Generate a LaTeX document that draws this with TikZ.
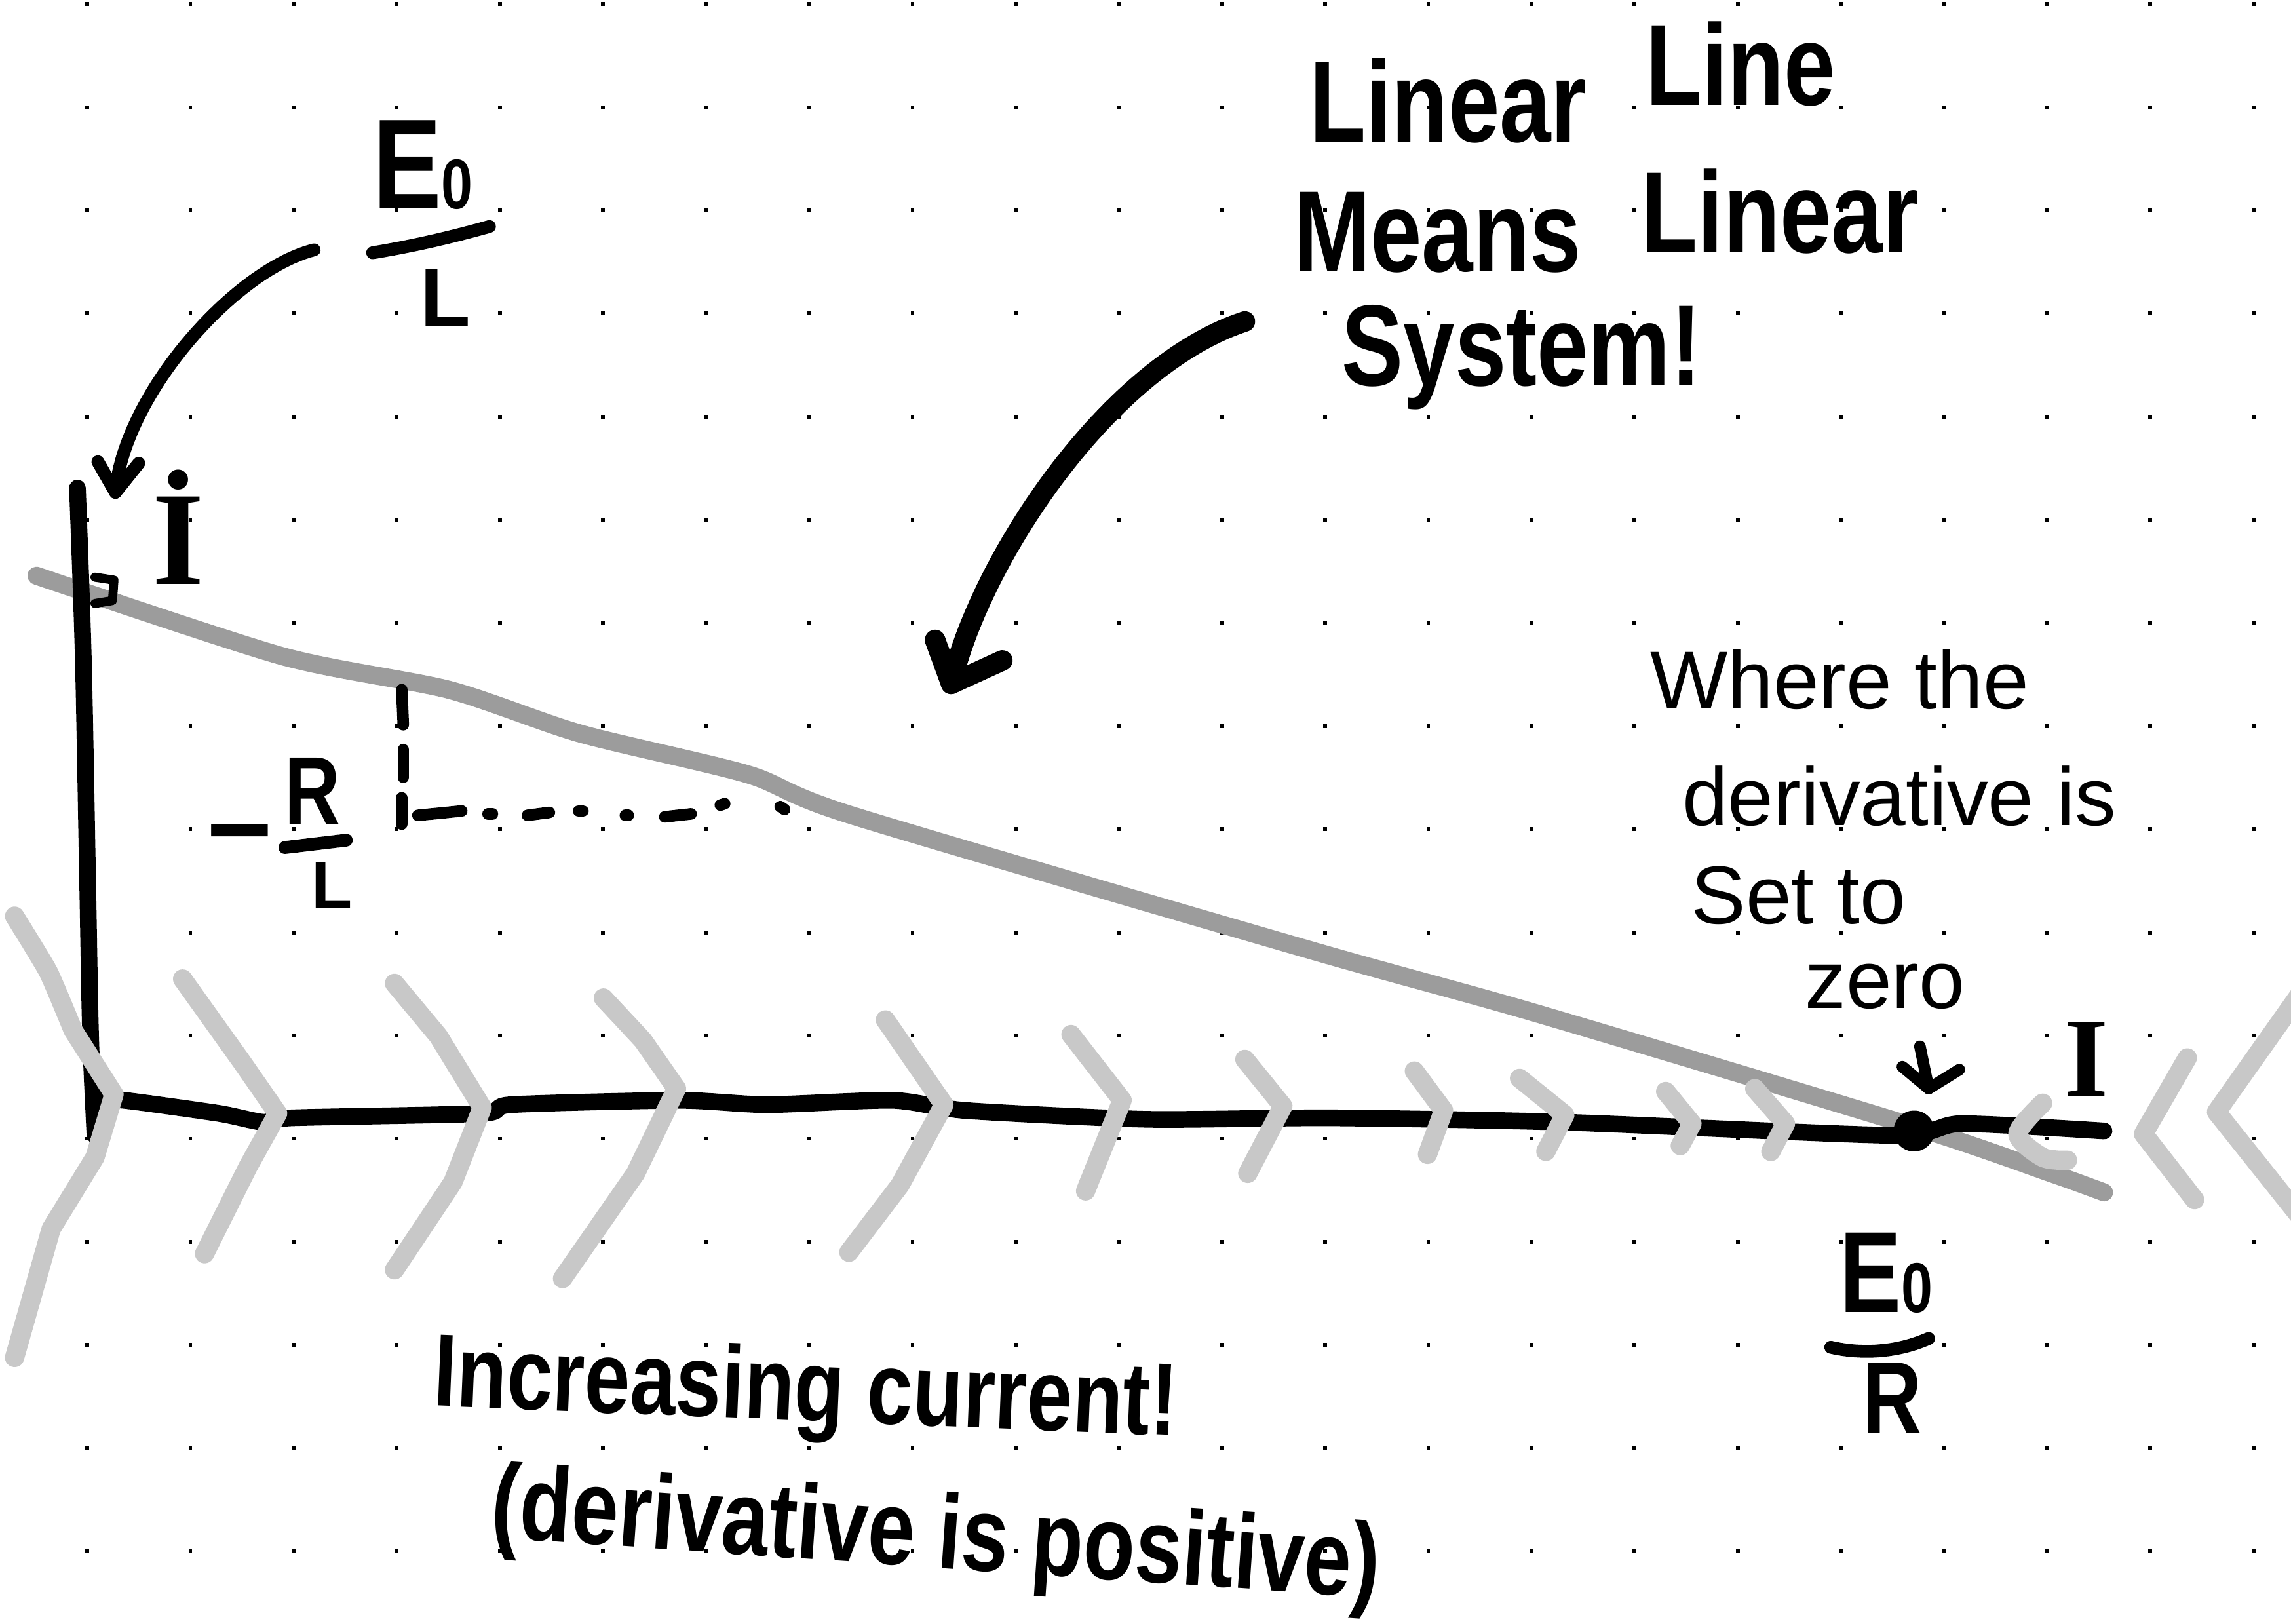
\documentclass[tikz,border=0pt]{standalone}
\usepackage{fontspec}
\setmainfont{Liberation Sans}
\newfontfamily\serifhand{Liberation Serif}
\definecolor{curvegray}{HTML}{9C9C9C}
\definecolor{chevgray}{HTML}{C8C8C8}
\newcommand{\tallish}[1]{\scalebox{1}[1.25]{#1}}
\newcommand{\subo}{{\fontsize{22}{24}\selectfont 0}}
\begin{document}
\begin{tikzpicture}[x=0.02cm, y=-0.02cm, line cap=round, line join=round,
  inkline/.style={draw=black, line width=6.5pt},
  grayline/.style={draw=curvegray, line width=7pt},
  chevron/.style={draw=chevgray, line width=7.5pt},
  bigtxt/.style={font=\fontsize{36}{40}\selectfont\bfseries, anchor=base west, inner sep=0pt},
  sidetxt/.style={font=\fontsize{32}{36}\selectfont, anchor=base west, inner sep=0pt},
  bottxt/.style={font=\fontsize{32}{36}\selectfont\bfseries, anchor=base west, inner sep=0pt},
  mathtxt/.style={inner sep=0pt, anchor=base},
  dashink/.style={draw=black, line width=4.5pt},
  fracbar/.style={draw=black, line width=5pt}]
\useasboundingbox (0,0) rectangle (1568,1111);
\fill[white] (0,0) rectangle (1568,1111);
\begin{scope}
\clip (0,0) rectangle (1568,1111);
% dot grid
\foreach \i in {0,...,21}{
  \foreach \j in {0,...,15}{
    \fill[black] ({58.4+70.6*\i},{1.4+70.6*\j}) rectangle ++(2.6,2.6);
  }
}
% grey line
\draw[grayline] plot[smooth, tension=0.45] coordinates {(25,394) (193,449) (307,472) (397,502) (512,530) (583,558) (896,650) (1050,693) (1310,771) (1404,803) (1440,816)};
% axes
\draw[inkline] plot[smooth, tension=0.5] coordinates {(53,334) (57,450) (60,605) (62,709) (65,777)};
\draw[inkline] plot[smooth, tension=0.4] coordinates {(65,753) (85,753) (150,762) (180,768) (200,765) (330,762) (350,756) (465,753) (525,756) (611,753) (661,760) (785,766) (911,765) (1071,768) (1296,777) (1342,769) (1440,774)};
\draw[black, line width=3.5pt] (65,395) -- (78,397) -- (77,411) -- (65,413);
% chevrons
\draw[chevron] plot[smooth, tension=0.3] coordinates {(10,627) (33,665) (50,705)} -- (78,749) -- (65,792) -- (35,841) -- (10,929);
\draw[chevron] (125,670) -- (165,726) -- (190,762) -- (170,798) -- (140,858);
\draw[chevron] (270,673) -- (300,709) -- (330,758) -- (310,809) -- (270,869);
\draw[chevron] (413,683) -- (440,712) -- (463,745) -- (435,803) -- (385,875);
\draw[chevron] (606,698) -- (646,756) -- (616,811) -- (581,857);
\draw[chevron] (733,708) -- (768,753) -- (743,815);
\draw[chevron] (852,725) -- (878,757) -- (854,803);
\draw[chevron] (968,733) -- (988,760) -- (977,790);
\draw[chevron] (1040,738) -- (1071,763) -- (1058,788);
\draw[chevron] (1140,747) -- (1158,769) -- (1150,784);
\draw[chevron] (1201,745) -- (1222,769) -- (1212,788);
\draw[chevron] plot[smooth, tension=0.5] coordinates {(1398,755) (1381,776) (1398,792) (1415,794)};
\draw[chevron] (1497,724) -- (1467,776) -- (1502,821);
\draw[chevron] (1580,672) -- (1517,761) -- (1580,840);
% zero point
\node[circle, fill=black, inner sep=0pt, minimum size=0.56cm] (zeroPt) at (1310,774) {};
% dashed helper
\draw[dashink] (275,472) -- (276,496);
\draw[dashink] (276,513) -- (276,532);
\draw[dashink] (275,546) -- (275,564);
\draw[dashink] (286,558) -- (316,555);
\draw[dashink] (334,557) -- (337,557);
\draw[dashink] (361,558) -- (376,556);
\draw[dashink] (396,555) -- (399,555);
\draw[dashink] (428,558) -- (430,558);
\draw[dashink] (455,559) -- (473,557);
\draw[dashink] (493,551) -- (496,550);
\draw[dashink] (534,552) -- (537,554);
% top caption
\node[bigtxt] (tLinear) at (896,97) {\tallish{Linear}};
\node[bigtxt] (tLine) at (1126,72) {\tallish{Line}};
\node[bigtxt] (tMeans) at (885,186) {\tallish{Means}};
\node[bigtxt] (tLinearB) at (1123,173) {\tallish{Linear}};
\node[bigtxt] (tSystem) at (918,264) {\tallish{System!}};
% right caption
\node[sidetxt] (w1) at (1129,485) {Where the};
\node[sidetxt] (w2) at (1151,565) {derivative is};
\node[sidetxt] (w3) at (1157,632) {Set to};
\node[sidetxt] (w4) at (1235,690) {zero};
% bottom caption
\node[bottxt, rotate=-2.3] (b1) at (296,962) {\tallish{Increasing current!}};
\node[bottxt, font=\fontsize{33}{37}\selectfont\bfseries, rotate=-3.9] (b2) at (335,1052) {\tallish{(derivative is positive)}};
% I labels
\node[mathtxt, font=\fontsize{52}{56}\selectfont\serifhand\bfseries] (idot) at (122,400) {İ};
\node[mathtxt, font=\fontsize{44}{48}\selectfont\serifhand\bfseries] (iright) at (1428,750) {I};
% E0/L
\node[bigtxt, font=\fontsize{40}{44}\selectfont\bfseries] (e0lnum) at (255,143) {\tallish{E\subo}};
\draw[fracbar] (255,173) .. controls (285,168) and (310,162) .. (335,155);
\node[mathtxt, font=\fontsize{32}{36}\selectfont\bfseries] (e0lden) at (305,223) {L};
% -R/L
\node[inner sep=0pt, font=\fontsize{44}{48}\selectfont\bfseries] (minus) at (164,579) {−};
\node[mathtxt, font=\fontsize{30}{34}\selectfont\bfseries] (rlnum) at (214,564) {\tallish{R}};
\draw[fracbar] (195,580) -- (237,575);
\node[mathtxt, font=\fontsize{26}{30}\selectfont\bfseries] (rlden) at (227,622) {L};
% E0/R
\node[bigtxt, font=\fontsize{36}{40}\selectfont\bfseries] (e0rnum) at (1259,898) {\tallish{E\subo}};
\draw[fracbar] (1253,922) .. controls (1270,926) and (1295,927) .. (1320,916);
\node[mathtxt, font=\fontsize{32}{36}\selectfont\bfseries] (e0rden) at (1295,981) {\tallish{R}};
% arrows
\coordinate (bigStart) at (852,220);
\coordinate (bigTip) at (651,468);
\draw[inkline, line width=8pt] (bigStart) .. controls (760,250) and (672,380) .. (bigTip);
\draw[inkline, line width=8pt] (bigTip) ++(-11,-30) -- (bigTip) -- ++(35,-16);
\coordinate (e0lStart) at (215,171);
\coordinate (e0lTip) at (79,337);
\draw[inkline, line width=5pt] (e0lStart) .. controls (160,185) and (85,270) .. (e0lTip);
\draw[inkline, line width=5pt] (e0lTip) ++(-12,-21) -- (e0lTip) -- ++(16,-20);
\coordinate (zStart) at (1314,716);
\coordinate (zTip) at (1320,745);
\draw[inkline, line width=4.5pt] (zStart) -- (zTip);
\draw[inkline, line width=4.5pt] (zTip) ++(-18,-15) -- (zTip) -- ++(21,-13);
\end{scope}
\end{tikzpicture}
\end{document}
